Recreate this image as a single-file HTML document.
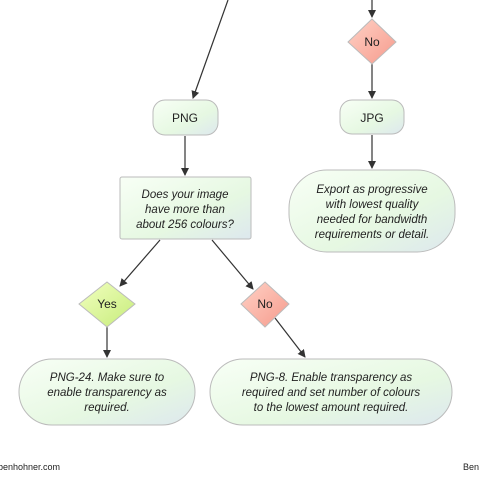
<!DOCTYPE html>
<html><head><style>
body{margin:0;width:480px;height:480px;background:#fff;overflow:hidden}
svg text{font-family:"Liberation Sans",sans-serif;fill:#222}
</style></head><body>
<svg width="480" height="480" viewBox="0 0 480 480">
<defs>
<linearGradient id="g" x1="0" y1="0" x2="1" y2="1"><stop offset="0" stop-color="#f8fff6"/><stop offset="0.6" stop-color="#e6f8e2"/><stop offset="1" stop-color="#dde8ee"/></linearGradient>
<linearGradient id="r" x1="0" y1="0" x2="1" y2="1"><stop offset="0" stop-color="#ffd2c6"/><stop offset="1" stop-color="#f69a8c"/></linearGradient>
<linearGradient id="y" x1="0" y1="0" x2="1" y2="1"><stop offset="0" stop-color="#f2ffc0"/><stop offset="1" stop-color="#c6ec7a"/></linearGradient>
<marker id="a" markerWidth="8" markerHeight="8" refX="7" refY="4" orient="auto" markerUnits="userSpaceOnUse"><path d="M0,0 L8,4 L0,8z" fill="#333"/></marker>
</defs>
<g stroke="#333" stroke-width="1.2" fill="none" marker-end="url(#a)">
<line x1="228" y1="0" x2="193" y2="98"/>
<line x1="372" y1="0" x2="372" y2="17"/>
<line x1="372" y1="64" x2="372" y2="98"/>
<line x1="185" y1="136" x2="185" y2="175"/>
<line x1="372" y1="135" x2="372" y2="168"/>
<line x1="160" y1="240" x2="120" y2="286"/>
<line x1="212" y1="240" x2="253" y2="289"/>
<line x1="107" y1="327" x2="107" y2="357"/>
<line x1="275" y1="318" x2="305" y2="357"/>
</g>
<g stroke="#bbb" stroke-width="1">
<polygon points="372,19 396,42 372,64 348,42" fill="url(#r)"/>
<polygon points="107,282 135,304 107,327 79,304" fill="url(#y)"/>
<polygon points="265,282 289,304 265,327 241,304" fill="url(#r)"/>
<rect x="153" y="100" width="65" height="35" rx="12" fill="url(#g)"/>
<rect x="340" y="100" width="64" height="34" rx="12" fill="url(#g)"/>
<rect x="120" y="177" width="131" height="62" rx="2" fill="url(#g)"/>
<rect x="289" y="170" width="166" height="82" rx="38" fill="url(#g)"/>
<rect x="19" y="359" width="176" height="66" rx="33" fill="url(#g)"/>
<rect x="210" y="359" width="242" height="66" rx="33" fill="url(#g)"/>
</g>
<g font-size="12" text-anchor="middle">
<text x="372" y="46">No</text>
<text x="107" y="308">Yes</text>
<text x="265" y="308">No</text>
<text x="185" y="122">PNG</text>
<text x="372" y="122">JPG</text>
</g>
<g font-size="11.5" font-style="italic" text-anchor="middle">
<text x="185" y="198">Does your image</text>
<text x="185" y="213">have more than</text>
<text x="185" y="228">about 256 colours?</text>
<text x="372" y="193">Export as progressive</text>
<text x="372" y="208">with lowest quality</text>
<text x="372" y="223">needed for bandwidth</text>
<text x="372" y="238">requirements or detail.</text>
<text x="107" y="381">PNG-24. Make sure to</text>
<text x="107" y="396">enable transparency as</text>
<text x="107" y="411">required.</text>
<text x="331" y="381">PNG-8. Enable transparency as</text>
<text x="331" y="396">required and set number of colours</text>
<text x="331" y="411">to the lowest amount required.</text>
</g>
<text x="-2" y="470" font-size="9">benhohner.com</text>
<text x="463" y="470" font-size="9">Ben</text>
</svg>
</body></html>
